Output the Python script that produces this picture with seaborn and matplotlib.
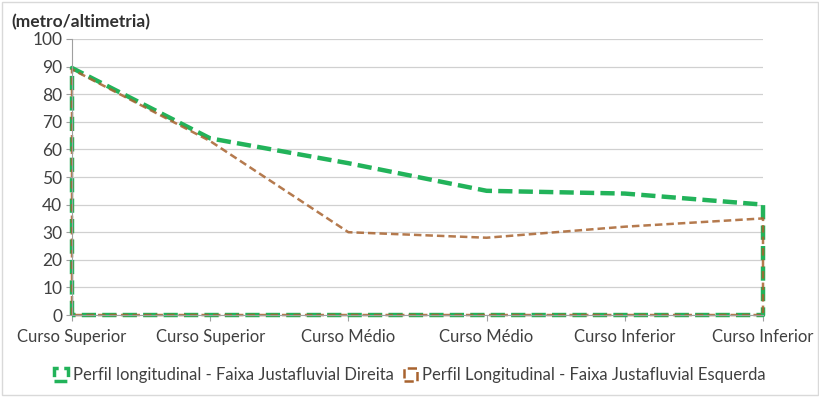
import pandas as pd
import matplotlib.pyplot as plt
import seaborn as sns
from matplotlib.patches import Patch

# -----------------------------
# Data
# -----------------------------
categories = ["Curso Superior", "Curso Superior", "Curso Médio",
              "Curso Médio", "Curso Inferior", "Curso Inferior"]
direita = [89.5, 64, 55, 45, 44, 40]
esquerda = [89, 63, 30, 28, 32, 35]
y_ticks = list(range(0, 101, 10))

label_dir = "Perfil longitudinal - Faixa Justafluvial Direita"
label_esq = "Perfil Longitudinal - Faixa Justafluvial Esquerda"
green = "#22b35a"
brown = "#a8632f"


def closed_outline(values):
    # Excel area chart without fill: outline runs along the top and back along 0
    n = len(values)
    xs = [0] + list(range(n)) + [n - 1, 0]
    ys = [0] + list(values) + [0, 0]
    return pd.DataFrame({"x": xs, "y": ys})


sns.set_style("white")
plt.rcParams["font.family"] = ["Lato", "DejaVu Sans"]

fig = plt.figure(figsize=(8.2, 3.97), dpi=100)
ax = fig.add_axes([0.0878, 0.2065, 0.8427, 0.6953])

df_dir = closed_outline(direita)
df_esq = closed_outline(esquerda)

sns.lineplot(data=df_dir, x="x", y="y", sort=False, estimator=None, ax=ax,
             color=green, linewidth=3.2, dashes=False)
ax.lines[-1].set_dashes([3.2, 1.4])
ax.lines[-1].set_clip_on(False)
sns.lineplot(data=df_esq, x="x", y="y", sort=False, estimator=None, ax=ax,
             color=brown, linewidth=1.8, dashes=False)
ax.lines[-1].set_dashes([3, 1.6])
ax.lines[-1].set_alpha(0.85)
ax.lines[-1].set_clip_on(False)

ax.set_xlim(0, len(categories) - 1)
ax.set_ylim(0, 100)
ax.set_xticks(range(len(categories)))
ax.set_xticklabels(categories, fontsize=12, color="#404040")
ax.set_yticks(y_ticks)
ax.set_yticklabels([str(t) for t in y_ticks], fontsize=12.5, color="#404040")
ax.set_xlabel("")
ax.set_ylabel("")

ax.grid(axis="y", color="#d0d0d0", linewidth=0.9)
ax.set_axisbelow(True)
for side in ["top", "right"]:
    ax.spines[side].set_visible(False)
ax.spines["left"].set_color("#a0a0a0")
ax.spines["bottom"].set_color("#a0a0a0")
ax.tick_params(axis="y", length=4, color="#a0a0a0", pad=3, direction="out", left=True)
ax.tick_params(axis="x", length=4, color="#a0a0a0", pad=6, direction="out", bottom=True)

fig.text(0.014, 0.945, "(metro/altimetria)", fontsize=12.5, fontweight="bold",
         color="#303030", ha="left", va="center")

handles = [
    Patch(facecolor="none", edgecolor=green, linewidth=2.5, linestyle="--", label=label_dir),
    Patch(facecolor="none", edgecolor=brown, linewidth=1.8, linestyle="--", label=label_esq),
]
fig.legend(handles=handles, loc="center", bbox_to_anchor=(0.5, 0.055), ncol=2,
           frameon=False, fontsize=12, handlelength=0.8, handleheight=0.8,
           handletextpad=0.3, columnspacing=0.6, labelcolor="#404040")

# light grey frame around the picture
fig.patches.append(plt.Rectangle((0.002, 0.004), 0.996, 0.99, transform=fig.transFigure,
                                 fill=False, edgecolor="#d9d9d9", linewidth=1))

fig.savefig("out.png", dpi=100)
